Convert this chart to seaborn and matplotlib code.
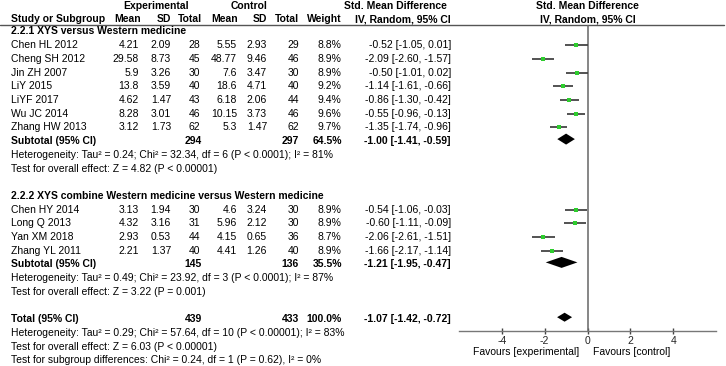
import numpy as np
import pandas as pd
import matplotlib
matplotlib.use('Agg')
import matplotlib.pyplot as plt
import seaborn as sns

# study level data
study = ['Chen HL 2012', 'Cheng SH 2012', 'Jin ZH 2007', 'LiY 2015', 'LiYF 2017', 'Wu JC 2014',
         'Zhang HW 2013', 'Chen HY 2014', 'Long Q 2013', 'Yan XM 2018', 'Zhang YL 2011']
subgroup = [1, 1, 1, 1, 1, 1, 1, 2, 2, 2, 2]
exp_mean = [4.21, 29.58, 5.9, 13.8, 4.62, 8.28, 3.12, 3.13, 4.32, 2.93, 2.21]
exp_sd = [2.09, 8.73, 3.26, 3.59, 1.47, 3.01, 1.73, 1.94, 3.16, 0.53, 1.37]
exp_n = [28, 45, 30, 40, 43, 46, 62, 30, 31, 44, 40]
ctl_mean = [5.55, 48.77, 7.6, 18.6, 6.18, 10.15, 5.3, 4.6, 5.96, 4.15, 4.41]
ctl_sd = [2.93, 9.46, 3.47, 4.71, 2.06, 3.73, 1.47, 3.24, 2.12, 0.65, 1.26]
ctl_n = [29, 46, 30, 40, 44, 46, 62, 30, 30, 36, 40]
weight = [8.8, 8.9, 8.9, 9.2, 9.4, 9.6, 9.7, 8.9, 8.9, 8.7, 8.9]
smd = [-0.52, -2.09, -0.50, -1.14, -0.86, -0.55, -1.35, -0.54, -0.60, -2.06, -1.66]
ci_low = [-1.05, -2.60, -1.01, -1.61, -1.30, -0.96, -1.74, -1.06, -1.11, -2.61, -2.17]
ci_high = [0.01, -1.57, 0.02, -0.66, -0.42, -0.13, -0.96, -0.03, -0.09, -1.51, -1.14]

# pooled estimates (subgroup 1, subgroup 2, total)
pooled_label = ['Subtotal (95% CI)', 'Subtotal (95% CI)', 'Total (95% CI)']
pooled_exp_n = [294, 145, 439]
pooled_ctl_n = [297, 136, 433]
pooled_weight = [64.5, 35.5, 100.0]
pooled_smd = [-1.00, -1.21, -1.07]
pooled_low = [-1.41, -1.95, -1.42]
pooled_high = [-0.59, -0.47, -0.72]

group_titles = ['2.2.1 XYS versus Western medicine',
                '2.2.2 XYS combine Western medicine versus Western medicine']
heterogeneity = ['Heterogeneity: Tau² = 0.24; Chi² = 32.34, df = 6 (P < 0.0001); I² = 81%',
                 'Heterogeneity: Tau² = 0.49; Chi² = 23.92, df = 3 (P < 0.0001); I² = 87%',
                 'Heterogeneity: Tau² = 0.29; Chi² = 57.64, df = 10 (P < 0.00001); I² = 83%']
overall_effect = ['Test for overall effect: Z = 4.82 (P < 0.00001)',
                  'Test for overall effect: Z = 3.22 (P = 0.001)',
                  'Test for overall effect: Z = 6.03 (P < 0.00001)']
subgroup_test = 'Test for subgroup differences: Chi² = 0.24, df = 1 (P = 0.62), I² = 0%'

ticks = [-4, -2, 0, 2, 4]

sns.set_style('white')
plt.rcParams['font.family'] = ['Liberation Sans', 'DejaVu Sans']
FS = 7.5

# row layout: title, studies, subtotal, heterogeneity, overall test, blank
study_row = [0] * len(study)
pooled_row = []
title_row = []
r = 0
for g in (1, 2):
    title_row.append(r)
    r += 1
    for i, sg in enumerate(subgroup):
        if sg == g:
            study_row[i] = r
            r += 1
    pooled_row.append(r)
    r += 4
pooled_row.append(r)


def ypos(row):
    return 31.5 + 13.7 * row


fig = plt.figure(figsize=(7.26, 3.66), dpi=100)
ax = fig.add_axes([0, 0, 1, 1])
ax.set_xlim(0, 726)
ax.set_ylim(366, 0)
ax.axis('off')


def put(x, y, s, ha='right', bold=False, **kw):
    ax.text(x, y, s, ha=ha, va='center', fontsize=FS,
            fontweight='bold' if bold else 'normal', color='black', **kw)


# header
put(156, 6, 'Experimental', ha='center', bold=True)
put(249, 6, 'Control', ha='center', bold=True)
put(447, 6, 'Std. Mean Difference', bold=True)
put(587, 6, 'Std. Mean Difference', ha='center', bold=True)
put(11, 19, 'Study or Subgroup', ha='left', bold=True)
for x, s in zip([141, 171, 202, 238, 267, 299, 342, 451],
                ['Mean', 'SD', 'Total', 'Mean', 'SD', 'Total', 'Weight', 'IV, Random, 95% CI']):
    put(x, 19, s, bold=True)
put(588, 19, 'IV, Random, 95% CI', ha='center', bold=True)
ax.plot([0, 724], [24.5, 24.5], color='#555555', lw=1)

# study rows
for i in range(len(study)):
    y = ypos(study_row[i])
    put(11, y, study[i], ha='left')
    put(139, y, f'{exp_mean[i]:g}')
    put(171, y, f'{exp_sd[i]:.2f}')
    put(200, y, f'{exp_n[i]}')
    put(237, y, f'{ctl_mean[i]:g}')
    put(267, y, f'{ctl_sd[i]:.2f}')
    put(299, y, f'{ctl_n[i]}')
    put(341, y, f'{weight[i]:.1f}%')
    put(451, y, f'{smd[i]:.2f} [{ci_low[i]:.2f}, {ci_high[i]:.2f}]')

# subgroup titles, pooled rows and tests
for g in range(2):
    put(11, ypos(title_row[g]), group_titles[g], ha='left', bold=True)
for k in range(3):
    y = ypos(pooled_row[k])
    put(11, y, pooled_label[k], ha='left', bold=True)
    put(202, y, f'{pooled_exp_n[k]}', bold=True)
    put(299, y, f'{pooled_ctl_n[k]}', bold=True)
    put(342, y, f'{pooled_weight[k]:.1f}%', bold=True)
    put(451, y, f'{pooled_smd[k]:.2f} [{pooled_low[k]:.2f}, {pooled_high[k]:.2f}]', bold=True)
    put(11, ypos(pooled_row[k] + 1), heterogeneity[k], ha='left')
    put(11, ypos(pooled_row[k] + 2), overall_effect[k], ha='left')
put(11, ypos(pooled_row[2] + 3), subgroup_test, ha='left')

# forest panel
top, bottom = 24.5, 330.7
fax = fig.add_axes([459 / 726, 1 - bottom / 366, (716 - 459) / 726, (bottom - top) / 366])
fax.set_facecolor('none')
df = pd.DataFrame({'smd': smd, 'lo': ci_low, 'hi': ci_high,
                   'y': [ypos(rw) for rw in study_row]})
fax.hlines(df['y'], df['lo'], df['hi'], color='#444444', lw=1.3, zorder=2)
sns.scatterplot(data=df, x='smd', y='y', ax=fax, marker='s', color='#2ecc2e',
                s=8, edgecolor='none', zorder=3, legend=False)
for k in range(3):
    y = ypos(pooled_row[k]) - 2
    h = 5.5 if k < 2 else 4.5
    fax.fill([pooled_low[k], pooled_smd[k], pooled_high[k], pooled_smd[k]],
             [y, y - h, y, y + h], color='black', lw=0, zorder=3)
fax.axvline(0, color='#666666', lw=1.1, zorder=1)
fax.set_xlim(-6, 6)
fax.set_ylim(bottom, top)
fax.set_xlabel('')
fax.set_ylabel('')
fax.set_yticks([])
fax.set_xticks(ticks)
fax.set_xticklabels([str(t) for t in ticks], fontsize=FS)
fax.tick_params(axis='x', direction='inout', length=5, width=1, color='#444444', pad=1.5,
                bottom=True)
for side in ['top', 'left', 'right']:
    fax.spines[side].set_visible(False)
fax.spines['bottom'].set_color('#777777')
fax.spines['bottom'].set_linewidth(1)

put(579, 352, 'Favours [experimental]')
put(593, 352, 'Favours [control]', ha='left')

fig.savefig('out.png', dpi=100)
